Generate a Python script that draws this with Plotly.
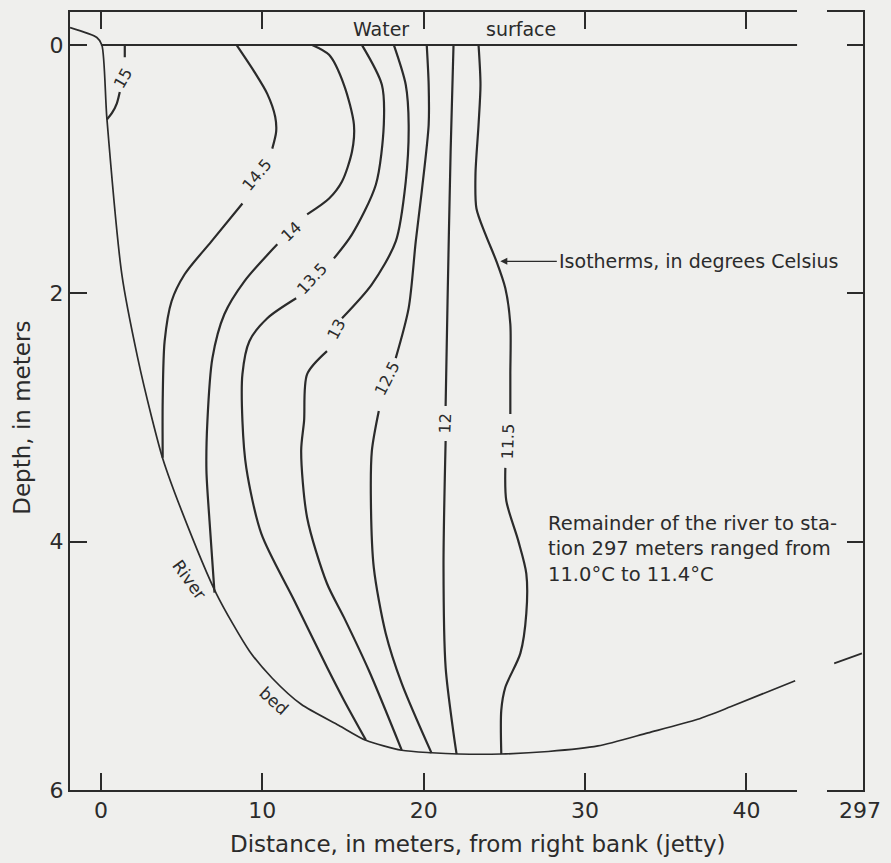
import plotly.graph_objects as go

# ---------------- data (distance in m, depth in m) ----------------
bed_x = [-1.91, -0.25, 0.06, 0.37, 1.30, 2.28, 3.15, 3.83, 5.00, 7.16, 9.20, 10.62,
         12.41, 14.75, 16.42, 18.64, 20.49, 22.16, 24.81, 27.72, 30.80, 33.89, 36.98,
         39.01, 43.02]
bed_d = [-0.14, -0.06, 0.0, 0.59, 1.85, 2.52, 3.00, 3.33, 3.75, 4.42, 4.88, 5.10,
         5.31, 5.48, 5.60, 5.68, 5.70, 5.71, 5.71, 5.69, 5.645, 5.54, 5.43,
         5.33, 5.12]
bed_far_x = [295.40, 297.12]
bed_far_d = [4.98, 4.90]

surface_x = [0.0, 43.15]
surface_d = [0.0, 0.0]

iso_15_x = [1.48, 1.48, None, 1.17, 0.99, 0.68, 0.37]
iso_15_d = [0.0, 0.10, None, 0.38, 0.47, 0.55, 0.60]

iso_145_x = [8.40, 9.51, 10.31, 10.80, 10.86, 10.62, None, 8.77, 6.85, 5.19, 4.38, 3.95, 3.83, 3.83]
iso_145_d = [0.0, 0.217, 0.394, 0.578, 0.699, 0.835, None, 1.277, 1.582, 1.847, 2.064, 2.386, 2.867, 3.325]

iso_14_x = [13.09, 14.14, 15.06, 15.68, 15.56, 14.94, 14.14, 12.78, None, 10.93, 8.89, 7.65, 6.91, 6.60, 6.54, 6.73, 7.04]
iso_14_d = [0.0, 0.080, 0.321, 0.643, 0.859, 1.100, 1.237, 1.365, None, 1.606, 1.904, 2.169, 2.522, 3.028, 3.430, 3.831, 4.410]

iso_135_x = [16.17, 17.41, 17.53, 17.04, 15.56, 14.44, None, 12.10, 10.31, 9.20, 8.77, 8.77, 9.01, 9.94, 11.98, 14.01, 15.06, 16.42]
iso_135_d = [0.0, 0.321, 0.643, 1.124, 1.526, 1.719, None, 2.040, 2.201, 2.386, 2.651, 3.028, 3.406, 3.936, 4.474, 5.012, 5.277, 5.598]

iso_13_x = [18.15, 18.89, 19.07, 18.89, 18.27, 16.79, 14.94, None, 14.01, 12.78, 12.59, 12.41, 12.78, 14.01, 15.06, 16.60, 18.64]
iso_13_d = [0.0, 0.321, 0.643, 1.100, 1.582, 1.928, 2.201, None, 2.466, 2.651, 3.028, 3.269, 3.807, 4.337, 4.610, 5.036, 5.679]

iso_125_x = [20.19, 20.31, 20.31, 19.88, 19.51, 19.07, 18.27, None, 17.22, 16.79, 16.73, 16.91, 17.65, 18.64, 20.49]
iso_125_d = [0.0, 0.321, 0.643, 1.181, 1.582, 2.120, 2.522, None, 2.948, 3.269, 3.671, 4.209, 4.739, 5.141, 5.703]

iso_12_x = [21.85, 21.67, 21.48, 21.36, None, 21.36, 21.23, 21.36, 21.85, 22.04]
iso_12_d = [0.0, 0.859, 2.064, 2.908, None, 3.189, 4.209, 5.012, 5.542, 5.711]

iso_115_x = [23.40, 23.52, 23.40, 23.21, 23.27, 23.83, 24.51, 25.06, 25.37, 25.37, 25.37, None,
             25.06, 25.12, 25.86, 26.36, 26.36, 25.99, 25.06, 24.81, 24.81]
iso_115_d = [0.0, 0.321, 0.643, 1.044, 1.317, 1.526, 1.743, 1.960, 2.249, 2.651, 2.972, None,
             3.406, 3.671, 3.992, 4.257, 4.578, 4.900, 5.173, 5.357, 5.711]

label_text = ["15", "14.5", "14", "13.5", "13", "12.5", "12", "11.5"]
label_x = [1.36, 9.69, 11.79, 13.09, 14.57, 17.72, 21.36, 25.25]
label_d = [0.27, 1.044, 1.502, 1.880, 2.289, 2.683, 3.052, 3.189]
label_angle = [-60, -50, -43, -47, -62, -63, -88, -88]

x_ticks = [0, 10, 20, 30, 40]
y_ticks = [0, 2, 4, 6]
far_tick = [297]

# ---------------- styling ----------------
INK = "#2b2b2b"
BG = "#efefed"
FONT = "DejaVu Sans"

fig = go.Figure()

iso_sets = [(iso_15_x, iso_15_d), (iso_145_x, iso_145_d), (iso_14_x, iso_14_d),
            (iso_135_x, iso_135_d), (iso_13_x, iso_13_d), (iso_125_x, iso_125_d),
            (iso_12_x, iso_12_d), (iso_115_x, iso_115_d)]
for xs, ds in iso_sets:
    fig.add_trace(go.Scatter(x=xs, y=ds, mode="lines", connectgaps=False,
                             line=dict(color=INK, width=2.2, shape="spline", smoothing=0.8),
                             hoverinfo="skip", showlegend=False, xaxis="x", yaxis="y"))

fig.add_trace(go.Scatter(x=bed_x, y=bed_d, mode="lines",
                         line=dict(color=INK, width=1.7, shape="spline", smoothing=0.7),
                         hoverinfo="skip", showlegend=False, xaxis="x", yaxis="y"))
fig.add_trace(go.Scatter(x=surface_x, y=surface_d, mode="lines",
                         line=dict(color=INK, width=2),
                         hoverinfo="skip", showlegend=False, xaxis="x", yaxis="y"))
fig.add_trace(go.Scatter(x=bed_far_x, y=bed_far_d, mode="lines",
                         line=dict(color=INK, width=1.7),
                         hoverinfo="skip", showlegend=False, xaxis="x2", yaxis="y2"))

annotations = []
for t, xx, dd, ang in zip(label_text, label_x, label_d, label_angle):
    annotations.append(dict(x=xx, y=dd, xref="x", yref="y", text=t, showarrow=False,
                            textangle=ang, font=dict(family=FONT, size=16, color=INK)))

annotations += [
    dict(x=17.35, y=-0.13, xref="x", yref="y", text="Water", showarrow=False,
         font=dict(family=FONT, size=19, color=INK)),
    dict(x=26.05, y=-0.13, xref="x", yref="y", text="surface", showarrow=False,
         font=dict(family=FONT, size=19, color=INK)),
    dict(x=5.49, y=4.31, xref="x", yref="y", text="River", showarrow=False, textangle=54,
         font=dict(family=FONT, size=17, color=INK)),
    dict(x=10.74, y=5.28, xref="x", yref="y", text="bed", showarrow=False, textangle=42,
         font=dict(family=FONT, size=17, color=INK)),
    dict(x=24.75, y=1.743, xref="x", yref="y", ax=28.25, ay=1.743, axref="x", ayref="y",
         text="Isotherms, in degrees Celsius", showarrow=True, xanchor="left",
         arrowhead=2, arrowsize=1, arrowwidth=1.4, arrowcolor=INK,
         font=dict(family=FONT, size=19, color=INK)),
    dict(x=27.55, y=4.056, xref="x", yref="y", xanchor="left", yanchor="middle", align="left",
         text="Remainder of the river to sta-<br>tion 297 meters ranged from<br>11.0°C to 11.4°C",
         showarrow=False, font=dict(family=FONT, size=19.5, color=INK)),
    dict(x=0.514, y=-0.069, xref="paper", yref="paper", yanchor="middle",
         text="Distance, in meters, from right bank (jetty)", showarrow=False,
         font=dict(family=FONT, size=23, color=INK)),
    dict(x=-0.061, y=0.478, xref="paper", yref="paper", xanchor="center",
         text="Depth, in meters", showarrow=False, textangle=-90,
         font=dict(family=FONT, size=23, color=INK)),
]

d1 = (800 - 70) / 796
d2 = (830 - 70) / 796

fig.update_layout(
    width=891, height=863,
    margin=dict(l=70, r=25, t=10, b=73),
    paper_bgcolor=BG, plot_bgcolor=BG,
    showlegend=False,
    font=dict(family=FONT, color=INK),
    annotations=annotations,
    xaxis=dict(domain=[0, d1], range=[-1.914, 43.148], showgrid=False, zeroline=False,
               showline=True, linecolor=INK, linewidth=2, mirror="ticks",
               ticks="inside", ticklen=17, tickwidth=2, tickcolor=INK,
               tickvals=x_ticks, tickfont=dict(family=FONT, size=22, color=INK)),
    yaxis=dict(range=[6, -0.265], showgrid=False, zeroline=False,
               showline=True, linecolor=INK, linewidth=2, mirror=False,
               ticks="inside", ticklen=17, tickwidth=2, tickcolor=INK,
               tickvals=y_ticks, tickfont=dict(family=FONT, size=22, color=INK)),
    xaxis2=dict(domain=[d2, 1], range=[294.963, 297.185], anchor="y2", showgrid=False,
                zeroline=False, showline=True, linecolor=INK, linewidth=2, mirror=True,
                ticks="", tickvals=far_tick, tickfont=dict(family=FONT, size=22, color=INK)),
    yaxis2=dict(range=[6, -0.265], anchor="x2", side="right", showgrid=False,
                zeroline=False, showline=True, linecolor=INK, linewidth=2, mirror=False,
                ticks="inside", ticklen=16, tickwidth=2, tickcolor=INK,
                tickvals=[0, 2, 4], showticklabels=False),
)

fig.write_html("out.html", config={"displayModeBar": False},
               post_script="document.body.style.margin='0';document.body.style.background='%s';" % BG)
